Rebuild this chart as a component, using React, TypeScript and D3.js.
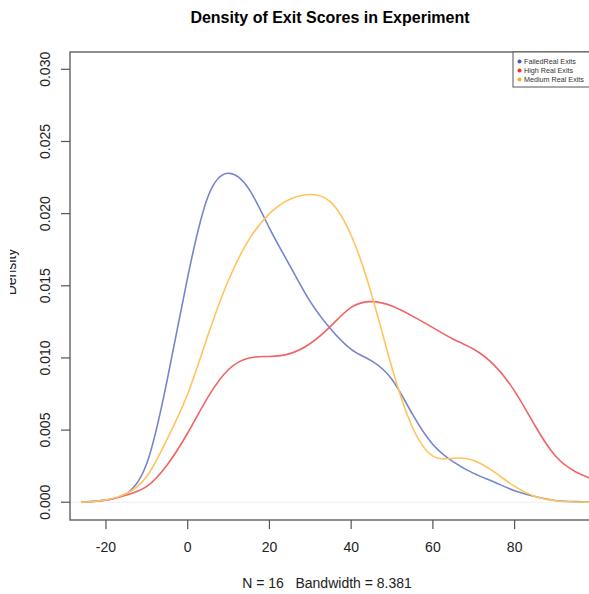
import React from 'react'
import * as d3 from 'd3'

// density estimates, one value per grid point
const gridX = [-26, -20, -15, -10, -5, 0, 5, 10, 15, 20, 25, 30, 35, 40, 45, 50, 55, 60, 65, 70, 75, 80, 85, 90, 95, 100]
const failedDensity = [0, 0.00015, 0.0006, 0.0027, 0.0085, 0.0156, 0.0212, 0.0228, 0.0217, 0.019, 0.0164, 0.0139, 0.012, 0.0106, 0.0098, 0.0085, 0.0061, 0.004, 0.0028, 0.002, 0.0014, 0.0008, 0.0004, 0.00012, 0.00004, 0.00001]
const highDensity = [0, 0.00015, 0.0005, 0.0011, 0.0026, 0.0048, 0.0073, 0.0092, 0.01, 0.0101, 0.0103, 0.011, 0.0122, 0.0135, 0.0139, 0.0136, 0.0129, 0.0121, 0.0113, 0.0106, 0.0095, 0.0077, 0.0053, 0.0032, 0.0021, 0.0015]
const mediumDensity = [0, 0.00015, 0.0006, 0.0018, 0.0044, 0.0075, 0.0116, 0.0154, 0.0182, 0.02, 0.021, 0.02133, 0.0208, 0.0185, 0.0144, 0.0093, 0.0052, 0.0032, 0.00305, 0.0029, 0.0021, 0.0011, 0.0004, 0.0001, 0.00002, 0]

const seriesNames = ['FailedReal Exits', 'High Real Exits', 'Medium Real Exits']
const lineColors = ['#7685cc', '#f26464', '#ffc45c']
const dotColors = ['#3a5bd0', '#ff2a2a', '#ffaa22']
const xTicks = [-20, 0, 20, 40, 60, 80]
const yTicks = [0, 0.005, 0.01, 0.015, 0.02, 0.025, 0.03]

const W = 589
const H = 594
const left = 70, right = 589, top = 52, bottom = 520

export default function App() {
  const x = d3.scaleLinear().domain([-28.8, 98.2]).range([left, right])
  const y = d3.scaleLinear().domain([-0.00123, 0.0312]).range([bottom, top])

  const line = d3.line<number>()
    .x((_, i) => x(gridX[i]))
    .y(d => y(d))
    .curve(d3.curveNatural)

  const series = [failedDensity, highDensity, mediumDensity]
  const font = '"Liberation Sans", Arial, sans-serif'

  return (
    <svg width={W} height={H} style={{ position: 'absolute', left: 0, top: 0, background: '#fff' }} fontFamily={font}>
      <defs>
        <clipPath id="plotClip">
          <rect x={left} y={top} width={right - left} height={bottom - top} />
        </clipPath>
        <clipPath id="ylabClip">
          <rect x={10} y={0} width={60} height={H} />
        </clipPath>
      </defs>
      <text x={330} y={23} textAnchor="middle" fontWeight="bold" fontSize={16}>
        Density of Exit Scores in Experiment
      </text>

      <g clipPath="url(#plotClip)">
        <line x1={left} x2={right} y1={y(0)} y2={y(0)} stroke="#eeeeee" strokeWidth={1} />
        {series.map((s, i) => (
          <path key={i} d={line(s) ?? ''} fill="none" stroke={lineColors[i]} strokeWidth={1.6} />
        ))}
      </g>

      <rect x={left} y={top} width={right - left + 4} height={bottom - top} fill="none" stroke="#555" strokeWidth={1.3} />

      {xTicks.map(t => (
        <g key={t} transform={`translate(${x(t)},${bottom})`}>
          <line y1={0} y2={9} stroke="#555" strokeWidth={1.2} />
          <text y={32} textAnchor="middle" fontSize={14} fill="#222">{t}</text>
        </g>
      ))}
      {yTicks.map(t => (
        <g key={t} transform={`translate(${left},${y(t)})`}>
          <line x1={0} x2={-9} stroke="#555" strokeWidth={1.2} />
          <text transform="translate(-20,0) rotate(-90)" textAnchor="middle" fontSize={14} fill="#222">
            {t.toFixed(3)}
          </text>
        </g>
      ))}

      <text x={327} y={588} textAnchor="middle" fontSize={14} fill="#222" xmlSpace="preserve">N = 16   Bandwidth = 8.381</text>
      <g clipPath="url(#ylabClip)">
        <text transform={`translate(16,272) rotate(-90)`} textAnchor="middle" fontSize={14} fill="#222">Density</text>
      </g>

      <g transform="translate(513,52)">
        <rect x={0} y={0} width={80} height={35} fill="#fff" stroke="#555" strokeWidth={1} />
        {seriesNames.map((n, i) => (
          <g key={n} transform={`translate(0,${9.5 + i * 9})`}>
            <circle cx={6.5} cy={0} r={2} fill={dotColors[i]} />
            <text x={11} y={2.4} fontSize={7.2} fill="#333">{n}</text>
          </g>
        ))}
      </g>
    </svg>
  )
}
